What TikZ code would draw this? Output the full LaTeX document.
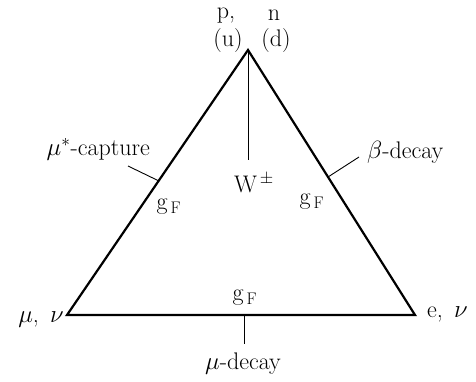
\documentclass[tikz,border=0pt]{standalone}
\usepackage{amsmath}
\usepackage{fontspec}
\usepackage{tikz}
\usetikzlibrary{calc}

\begin{document}
\begin{tikzpicture}[x=1pt, y=-1pt,
  side/.style={line width=2.2pt, line join=miter},
  thin line/.style={line width=0.9pt},
  lbl/.style={inner sep=0pt, font=\fontsize{24}{28}\selectfont\addfontfeatures{LetterSpace=8}}
]
\useasboundingbox (0,0) rectangle (476,381);

% corners of the triangle
\coordinate (apex) at (248,50);
\coordinate (lft) at (67,315);
\coordinate (rgt) at (415,315);

\draw[side] (apex) -- (lft) -- (rgt) -- cycle;

% W line and ticks
\coordinate (wEnd) at (248,160);
\coordinate (lt) at (159,181);
\coordinate (ltEnd) at (128,166);
\coordinate (rt) at (328,177);
\coordinate (rtEnd) at (359,157);
\coordinate (bt) at (244,315);
\coordinate (btEnd) at (244,344);

\draw[thin line] (apex) -- (wEnd);
\draw[thin line] (lt) -- (ltEnd);
\draw[thin line] (rt) -- (rtEnd);
\draw[thin line] (bt) -- (btEnd);

% labels
\node[lbl] (p) at (226,16) {p,};
\node[lbl] (n) at (274,15) {n};
\node[lbl] (u) at (228,41) {(u)};
\node[lbl] (d) at (276,41) {(d)};
\node[lbl] (W) at (254,183) {W$^{\,\pm}$};
\node[lbl, anchor=east] (capt) at (150,149) {$\mu^*$-capture};
\node[lbl, anchor=west] (beta) at (367,152) {$\beta$-decay};
\node[lbl] (gl) at (169,207) {g$_{\,\mathrm F}$};
\node[lbl] (gr) at (312,202) {g$_{\,\mathrm F}$};
\node[lbl] (gb) at (245,298) {g$_{\,\mathrm F}$};
\node[lbl, anchor=east] (mu) at (64,320) {$\mu$,\, $\nu$};
\node[lbl, anchor=west] (e) at (427,314) {e,\, $\nu$};
\node[lbl] (mudec) at (243,364) {$\mu$-decay};
\end{tikzpicture}
\end{document}
